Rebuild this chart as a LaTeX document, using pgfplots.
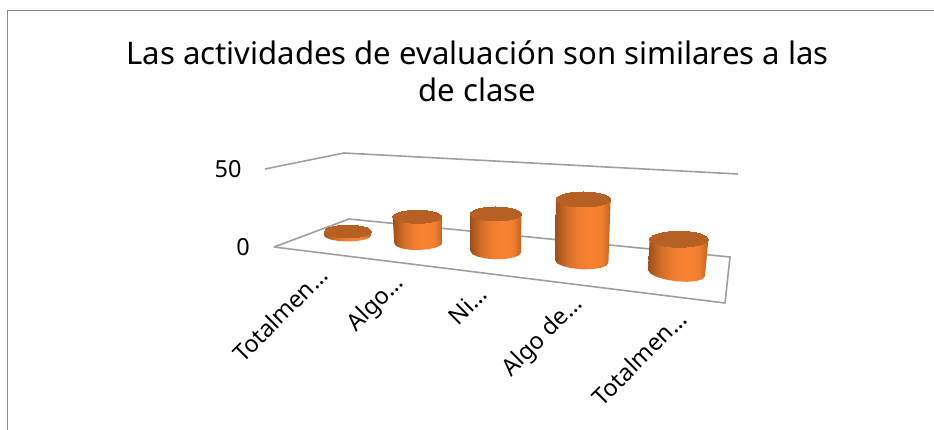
\documentclass[border=0pt]{standalone}
\usepackage{pgfplots}
\pgfplotsset{compat=1.18}
\usepackage{fontspec}
\setmainfont{Noto Sans}
\definecolor{cyltop}{RGB}{182,96,36}
\definecolor{cyldark}{RGB}{155,79,27}
\definecolor{cylbright}{RGB}{250,131,50}
\definecolor{cylright}{RGB}{190,98,36}
\definecolor{gridc}{RGB}{160,160,160}
\definecolor{framec}{RGB}{140,140,140}
\pgfdeclarehorizontalshading{cyl}{100bp}{color(0bp)=(cyldark); color(25bp)=(cyldark); color(36bp)=(cylbright!60!cyldark); color(46bp)=(cylbright!88!cyldark); color(57bp)=(cylbright); color(67bp)=(cylbright!85!cylright); color(75bp)=(cylright); color(100bp)=(cylright)}
\pgfplotsset{
  body/.style={draw=none, shading=cyl, mark=none},
  lid/.style n args={4}{only marks, mark=*, mark size=1pt,
    mark options={draw=cyltop, fill=cyltop, line width=0pt, xscale=#1, yscale=#2, rotate=#3}},
  floorline/.style={gridc, line width=1.6pt, mark=none, line join=miter},
}
\begin{document}
\begin{tikzpicture}[x=1pt,y=1pt]
\useasboundingbox (0,0) rectangle (934,430);
\begin{axis}[
  at={(0,0)}, anchor=south west,
  x=1pt, y=1pt, scale only axis,
  width=934pt, height=430pt,
  xmin=0, xmax=934, ymin=0, ymax=430, y dir=reverse,
  axis lines=none, clip=false,
]
% chart frame
\addplot[framec, line width=1.5pt, mark=none] coordinates {(7.5,430) (7.5,10.5) (934,10.5)};
% 50 gridline and floor
\addplot[floorline] coordinates {(265,169) (344,153) (738,174)};
\addplot[floorline] coordinates {(274,247) (349,219) (730,257) (725,303) (274,247)};
% cylinders: outline of the body, then the lid
\addplot[body] coordinates {(324,231.5) (324,235) (325.8,237.5) (330.9,239.6) (338.6,241) (347.7,241.5) (356.8,241) (364.5,239.6) (369.6,237.5) (371.4,235) (371.4,231.5)} --cycle;
\addplot[lid={23.7}{6.3}{0}{}] coordinates {(347.7,231.5)};
\addplot[body] coordinates {(392.7,216.8) (394.3,243.5) (396.1,246.1) (401.4,248.3) (409.2,249.7) (418.5,250) (427.8,249.3) (435.6,247.6) (440.9,245.2) (442.7,242.5) (441.7,216.8)} --cycle;
\addplot[lid={24.5}{6.5}{0}{}] coordinates {(417.2,216.8)};
\addplot[body] coordinates {(470,214) (470.6,251.5) (472.5,254.3) (478,256.8) (486.1,258.6) (495.8,259.3) (505.5,258.9) (513.6,257.5) (519.1,255.3) (521,252.5) (521.4,214)} --cycle;
\addplot[lid={25.7}{7}{0}{}] coordinates {(495.7,214)};
\addplot[body] coordinates {(556,199) (555,260.2) (557,263.3) (562.8,266.1) (571.5,268.2) (581.7,269.3) (591.9,269.2) (600.6,267.9) (606.4,265.7) (608.4,262.8) (610.6,200)} --cycle;
\addplot[lid={27.3}{7.5}{-1}{}] coordinates {(583.3,199.5)};
\addplot[body] coordinates {(649.7,238.3) (648,270) (650.2,273.4) (656.4,276.8) (665.6,279.5) (676.5,281.3) (687.4,281.8) (696.6,281) (702.8,279) (705,276) (708.3,240.3)} --cycle;
\addplot[lid={29.3}{8}{-2.5}{}] coordinates {(679,239.3)};
% texts
\node[align=center, font=\fontsize{31.1}{37}\selectfont, anchor=center] at (axis cs:477.5,71) {Las actividades de evaluación son similares a las\\de clase};
\node[font=\fontsize{23.5}{28}\selectfont] at (axis cs:228,169) {50};
\node[font=\fontsize{23.5}{28}\selectfont] at (axis cs:243,247) {0};
\node[rotate=45, font=\fontsize{23.5}{28}\selectfont] at (axis cs:280,314.5) {Totalmen…};
\node[rotate=45, font=\fontsize{23.5}{28}\selectfont] at (axis cs:376,304) {Algo…};
\node[rotate=45, font=\fontsize{23.5}{28}\selectfont] at (axis cs:467.5,305.5) {Ni…};
\node[rotate=45, font=\fontsize{23.5}{28}\selectfont] at (axis cs:543,337) {Algo de…};
\node[rotate=45, font=\fontsize{23.5}{28}\selectfont] at (axis cs:639,358) {Totalmen…};
\end{axis}
\end{tikzpicture}
\end{document}
